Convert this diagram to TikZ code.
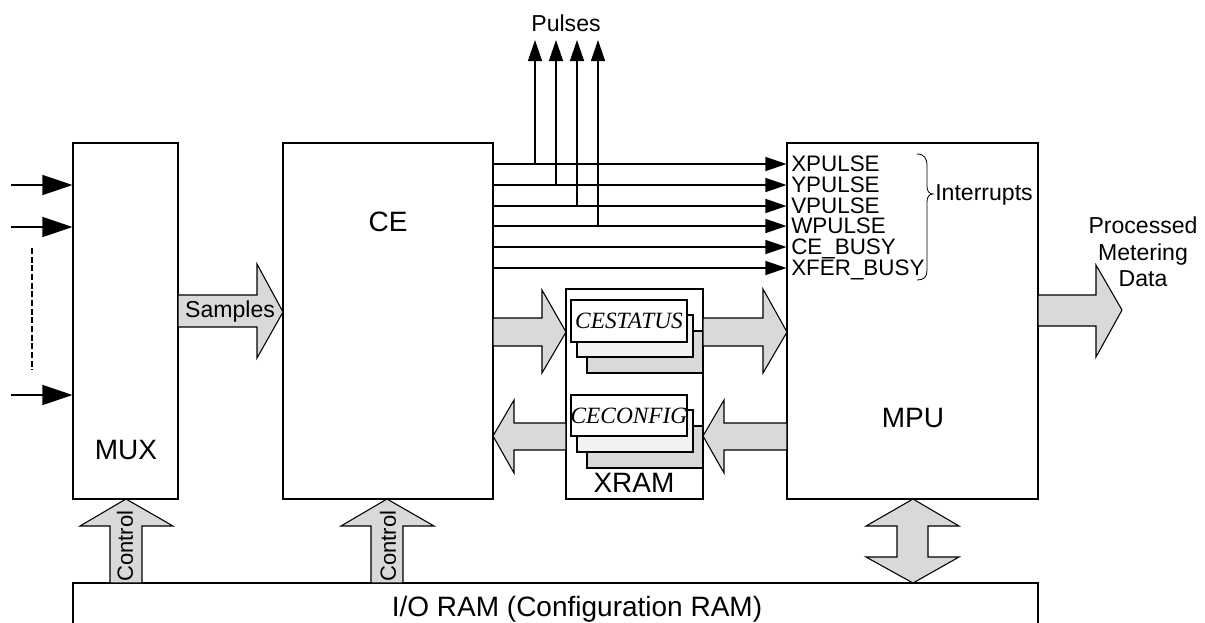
\documentclass[tikz,border=0pt]{standalone}
\usepackage{fontspec}
\setmainfont{Liberation Sans}
\newfontfamily\memfont{Liberation Serif}
\usetikzlibrary{arrows.meta,fit}
\tikzset{
  % blocks
  blk/.style={draw,line width=0.8pt,inner sep=0pt,fill=white},
  title/.style={inner sep=0pt,font=\fontsize{21}{25}\selectfont},
  lbl/.style={inner sep=0pt,font=\fontsize{17.3}{20}\selectfont},
  ctl/.style={inner sep=0pt,rotate=90,font=\fontsize{16.5}{20}\selectfont},
  sig/.style={inner sep=0pt,anchor=base west,font=\fontsize{16.8}{19}\selectfont},
  % wires
  wire/.style={line width=1pt},
  sigarrow/.style={wire,-{Triangle[length=15.75pt,width=10.5pt]}},
  inarrow/.style={wire,-{Triangle[length=22.5pt,width=15pt]}},
  fat/.style={draw,line width=0.8pt,fill=black!15,line join=miter},
  brace/.style={draw,line width=0.6pt},
  % xram
  memfront/.style={draw,line width=0.8pt,fill=white,inner sep=0pt},
  memtxt/.style={inner sep=0pt,font=\memfont\itshape\fontsize{17.5}{20}\selectfont},
  memmid/.style={draw,line width=0.8pt,fill=black!5},
  memback/.style={draw,line width=0.8pt,fill=black!15},
}
\begin{document}
\begin{tikzpicture}[x=0.75pt,y=-0.75pt]
  \useasboundingbox (0,0) rectangle (1205,622);
  \clip (0,0) rectangle (1205,622);
  \node[blk,fit={(73,143) (178,499)}] (mux) {};
  \node[blk,fit={(283,143) (493,499)}] (ce) {};
  \node[blk,fit={(566,289) (703,499)}] (xram) {};
  \node[blk,fit={(787,143) (1038,499)}] (mpu) {};
  \node[blk,fit={(73,583) (1038,640)}] (ioram) {};
  \node[title] (muxlbl) at (126,450) {MUX};
  \node[title] (celbl) at (388,222) {CE};
  \node[title] (mpulbl) at (913,418) {MPU};
  \node[title] (xramlbl) at (634,483) {XRAM};
  \node[inner sep=0pt,font=\fontsize{21}{24}\selectfont] (iolbl) at (577,609)
    {I/O RAM (Configuration RAM)};
  % inputs
  \coordinate (in1) at (11,185);
  \coordinate (in2) at (11,227);
  \coordinate (in3) at (11,395);
  \foreach \p in {in1,in2,in3}
    \draw[inarrow] (\p) -- (\p -| mux.west);
  \draw[line width=1.2pt,dash pattern=on 4.5pt off 2pt] (32,248) -- (32,370);
  % signals to mpu
  \foreach \nm/\yy/\txt in {xp/164/XPULSE,yp/185/YPULSE,vp/206/VPULSE,
      wp/226/WPULSE,cb/247/CE\_BUSY,xb/268/XFER\_BUSY}{
    \node[sig] (\nm) at (791,\yy+7.5) {\txt};
    \draw[sigarrow] (ce.east |- 0,\yy) -- (mpu.west |- 0,\yy);
  }
  \foreach \xx/\yy in {535/164,556/185,577/206,598/226}
    \draw[sigarrow] (\xx,\yy) -- (\xx,40);
  \node[lbl] (pulses) at (566,23) {Pulses};
  \draw[brace] (917,154) .. controls (924,154) and (927,158) .. (927,166)
    -- (927,186) .. controls (927,191) and (929,194) .. (933,194)
    .. controls (929,194) and (927,197) .. (927,202)
    -- (927,270) .. controls (927,277) and (924,280) .. (917,280);
  \node[lbl,anchor=west] (irq) at (935,195) {Interrupts};
  % xram contents
  \draw[memback] (587,331) rectangle (703,373);
  \draw[memmid] (577,315) rectangle (693,357);
  \node[memfront,fit={(571,300) (687,342)}] (cestatus) {};
  \node[memtxt] at (cestatus.center) {CESTATUS};
  \draw[memback] (587,426) rectangle (703,468);
  \draw[memmid] (577,410) rectangle (693,452);
  \node[memfront,fit={(571,395) (687,436)}] (ceconfig) {};
  \node[memtxt] at (ceconfig.center) {CECONFIG};
  % wide arrows
  \draw[fat] (178,295) -- (257,295) -- (257,264) -- (283,312) -- (257,358)
    -- (257,327) -- (178,327) -- cycle;
  \node[lbl] (samples) at (230,312) {Samples};
  \draw[fat] (493,318) -- (542,318) -- (542,290) -- (566,332) -- (542,373)
    -- (542,346) -- (493,346) -- cycle;
  \draw[fat] (703,318) -- (763,318) -- (763,289) -- (787,332) -- (763,373)
    -- (763,346) -- (703,346) -- cycle;
  \draw[fat] (787,423) -- (724,423) -- (724,400) -- (703,436) -- (724,473)
    -- (724,450) -- (787,450) -- cycle;
  \draw[fat] (566,423) -- (514,423) -- (514,400) -- (493,436) -- (514,473)
    -- (514,450) -- (566,450) -- cycle;
  \draw[fat] (1038,295) -- (1096,295) -- (1096,265) -- (1122,310) -- (1096,357)
    -- (1096,326) -- (1038,326) -- cycle;
  \node[lbl,align=center] (outlbl) at (1143,252) {Processed\\Metering\\Data};
  % control from io ram
  \draw[fat] (110,583) -- (110,526) -- (80,526) -- (126,499) -- (173,526)
    -- (142,526) -- (142,583) -- cycle;
  \node[ctl] (ctl1) at (125,546) {Control};
  \draw[fat] (371,583) -- (371,526) -- (341,526) -- (387,499) -- (434,526)
    -- (403,526) -- (403,583) -- cycle;
  \node[ctl] (ctl2) at (388,546) {Control};
  \draw[fat] (913,499) -- (959,526) -- (928,526) -- (928,557) -- (959,557)
    -- (913,583) -- (866,557) -- (897,557) -- (897,526) -- (866,526) -- cycle;
\end{tikzpicture}
\end{document}
